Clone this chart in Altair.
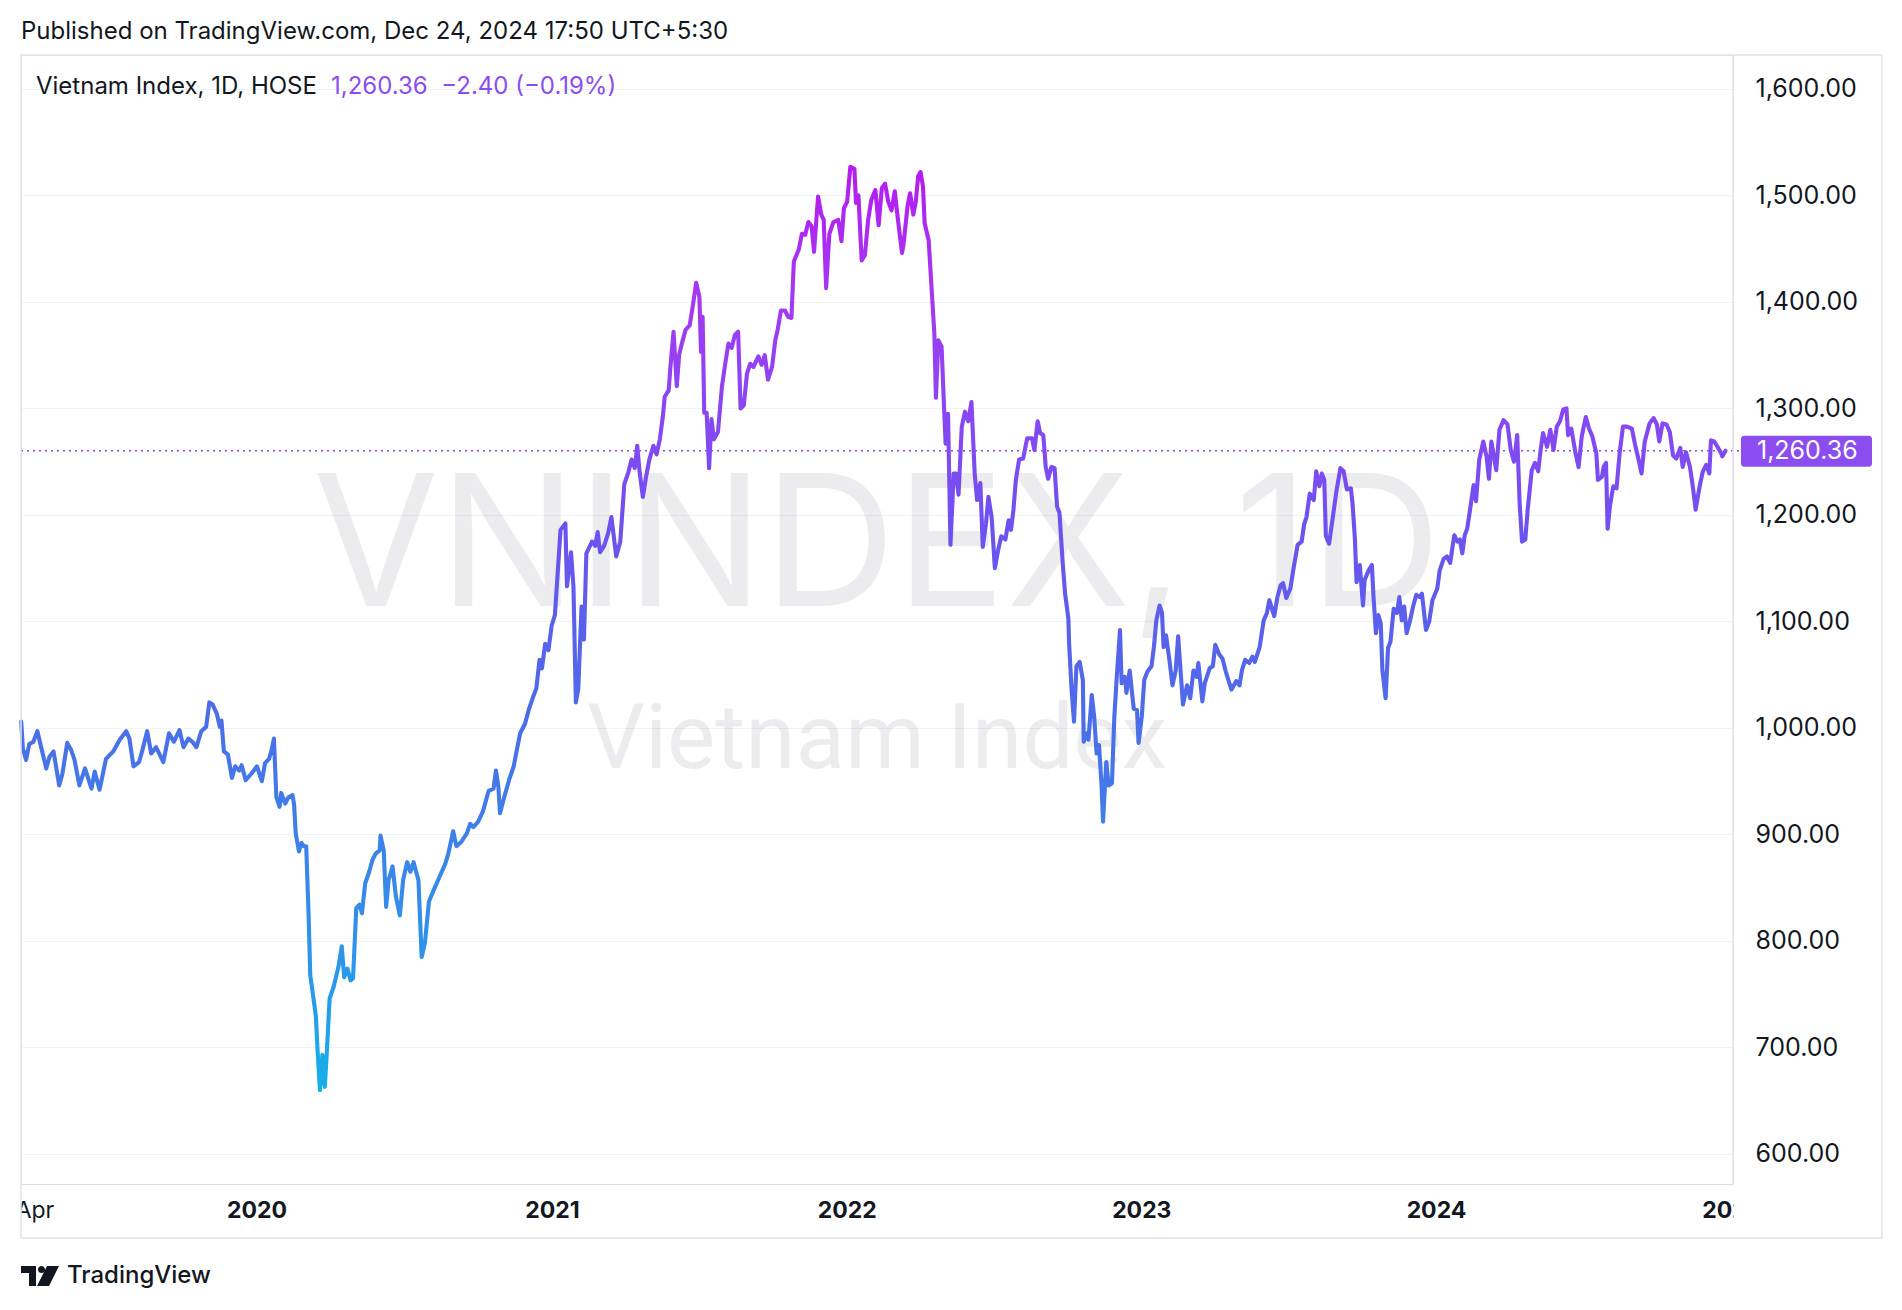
import altair as alt
import pandas as pd

# ---------------- data (days since START, index value) ----------------
START = "2020-01-01"

DAYS_A = [-292, -290, -286, -282, -277, -272, -268, -261, -257, -252, -245, -241, -235, -230, -226, -220, -213, -205, -201, -195,
          -187, -178, -170, -162, -158, -153, -146, -142, -136, -131, -125, -116, -109, -103, -96, -91, -85, -80, -75, -69,
          -63, -59, -55, -50, -46, -44, -41, -36, -31, -27, -22, -19, -14, -7, 0, 6, 10, 15, 18, 21,
          24, 28, 30, 35, 39, 44, 46, 48, 52, 55, 58, 61, 64, 66, 70, 73, 75, 78, 81, 84,
          86, 90, 95, 101, 105, 108, 112, 116, 119, 123, 127, 130, 134, 139, 143, 147, 152, 153, 157, 160,
          163, 168, 172, 177, 181, 186, 190, 194, 200, 204, 208, 213, 219]
VALS_A = [1006, 981, 970, 985, 987, 997, 984, 962, 973, 978, 946, 957, 986, 979, 970, 946, 962, 943, 959, 942,
          971, 978, 989, 997, 990, 964, 968, 979, 997, 976, 982, 968, 995, 987, 998, 982, 990, 987, 982, 997,
          1001, 1024, 1022, 1014, 1001, 1007, 978, 975, 953, 964, 960, 965, 951, 957, 964, 950, 967, 971, 979, 990,
          935, 926, 939, 929, 935, 937, 928, 901, 884, 892, 889, 889, 823, 768, 746, 729, 698, 660, 693, 663,
          688, 746, 757, 776, 795, 766, 774, 763, 765, 831, 834, 826, 854, 865, 876, 882, 885, 899, 885, 832,
          857, 870, 842, 824, 857, 874, 865, 874, 857, 785, 798, 837, 848]

DAYS_B = [233, 237, 243, 247, 253, 260, 264, 268, 274, 280, 287, 293, 296, 299, 301, 307, 313, 318, 322, 326,
          332, 337, 342, 346, 350, 353, 357, 361, 365, 369, 372, 376, 382, 384, 389, 392, 395, 398, 402, 405,
          408, 415, 419, 422, 425, 430, 435, 439, 445, 450, 455, 460, 464, 468, 471, 474, 478, 482, 486, 491,
          495, 499, 503, 505, 510, 512, 516, 520, 523, 527, 531, 536, 540, 544, 548, 550, 552, 554, 557, 560,
          563, 566, 571, 576, 580, 584, 588, 592, 596, 599, 603]
VALS_B = [872, 882, 903, 889, 893, 901, 910, 907, 912, 922, 941, 943, 960, 945, 920, 937, 953, 964, 980, 995,
          1004, 1018, 1029, 1037, 1064, 1056, 1079, 1073, 1096, 1106, 1140, 1186, 1192, 1133, 1165, 1133, 1024, 1037, 1114, 1083,
          1164, 1175, 1171, 1184, 1165, 1171, 1183, 1198, 1161, 1175, 1229, 1240, 1252, 1244, 1265, 1240, 1217, 1236, 1252, 1265,
          1257, 1271, 1294, 1311, 1317, 1338, 1372, 1321, 1351, 1363, 1374, 1378, 1397, 1418, 1405, 1353, 1386, 1296, 1296, 1244,
          1290, 1271, 1278, 1321, 1342, 1361, 1357, 1369, 1372, 1300, 1303]

DAYS_C = [607, 611, 615, 621, 625, 629, 633, 638, 642, 645, 649, 654, 658, 662, 665, 671, 675, 679, 683, 687,
          690, 695, 699, 702, 705, 709, 714, 720, 724, 727, 731, 735, 740, 742, 745, 749, 753, 757, 761, 766,
          770, 774, 778, 782, 786, 790, 794, 799, 801, 806, 809, 813, 816, 819, 822, 825, 827, 832, 836, 839,
          841, 844, 848, 851, 853, 856, 859, 863, 866, 869, 873, 877, 881, 885, 889, 892, 896, 899, 903, 906, 910]
VALS_C = [1333, 1342, 1339, 1349, 1341, 1350, 1327, 1339, 1364, 1374, 1392, 1392, 1386, 1385, 1438, 1449, 1464, 1463, 1475, 1471,
          1447, 1499, 1482, 1477, 1413, 1464, 1475, 1477, 1457, 1488, 1494, 1527, 1525, 1493, 1500, 1439, 1444, 1477, 1496, 1505,
          1472, 1507, 1511, 1494, 1486, 1504, 1477, 1446, 1455, 1491, 1502, 1482, 1494, 1518, 1522, 1508, 1474, 1458, 1408, 1371,
          1310, 1364, 1358, 1302, 1267, 1295, 1172, 1239, 1239, 1219, 1283, 1297, 1288, 1306, 1239, 1214, 1230, 1170, 1192, 1217, 1198]

DAYS_D = [914, 918, 922, 927, 931, 934, 937, 940, 944, 949, 954, 960, 963, 967, 970, 974, 977, 980, 984, 988,
          991, 994, 998, 1001, 1005, 1006, 1009, 1012, 1015, 1019, 1023, 1024, 1028, 1030, 1034, 1037, 1040, 1043, 1046, 1048,
          1052, 1055, 1059, 1062, 1065, 1069, 1071, 1075, 1077, 1081, 1086, 1090, 1092, 1096, 1099, 1103, 1108, 1111, 1114, 1118,
          1121, 1123, 1126, 1130, 1134, 1138, 1141, 1144, 1147, 1152, 1156, 1160, 1164, 1166]
VALS_D = [1150, 1167, 1180, 1177, 1195, 1186, 1205, 1233, 1252, 1253, 1272, 1272, 1261, 1288, 1277, 1275, 1245, 1234, 1245, 1244,
          1208, 1202, 1155, 1126, 1103, 1079, 1036, 1006, 1058, 1062, 1045, 987, 995, 989, 1031, 1011, 976, 984, 948, 912,
          968, 946, 948, 1011, 1048, 1092, 1042, 1048, 1033, 1054, 1018, 1017, 986, 1011, 1045, 1053, 1058, 1076, 1101, 1115,
          1108, 1076, 1087, 1065, 1040, 1054, 1086, 1054, 1022, 1040, 1028, 1054, 1048, 1061]

DAYS_E = [1171, 1174, 1180, 1184, 1187, 1192, 1196, 1200, 1207, 1213, 1217, 1220, 1224, 1229, 1233, 1236, 1242, 1247, 1251, 1254,
          1260, 1264, 1268, 1271, 1275, 1280, 1284, 1289, 1294, 1297, 1300, 1304, 1309, 1312, 1316, 1319, 1322, 1324, 1328, 1333,
          1337, 1342, 1346, 1350, 1355, 1357, 1360, 1362, 1366, 1370, 1372, 1377, 1381, 1383, 1386, 1389, 1392, 1394, 1398, 1401,
          1404, 1408, 1412, 1415, 1418, 1421, 1424, 1428, 1432, 1436, 1440, 1443, 1448, 1452, 1456, 1462, 1465, 1470, 1474, 1478,
          1483, 1487, 1490, 1493, 1496, 1499]
VALS_E = [1025, 1042, 1056, 1058, 1078, 1069, 1065, 1053, 1036, 1044, 1040, 1054, 1064, 1061, 1067, 1062, 1076, 1101, 1108, 1120,
          1105, 1123, 1134, 1136, 1122, 1131, 1150, 1172, 1175, 1191, 1198, 1220, 1214, 1241, 1227, 1239, 1233, 1180, 1173, 1200,
          1222, 1244, 1241, 1224, 1225, 1211, 1177, 1137, 1153, 1115, 1139, 1148, 1153, 1123, 1089, 1106, 1098, 1054, 1028, 1075,
          1081, 1112, 1108, 1123, 1101, 1114, 1089, 1100, 1114, 1125, 1123, 1126, 1092, 1100, 1120, 1131, 1148, 1159, 1161, 1155,
          1181, 1175, 1177, 1164, 1181, 1187]

DAYS_F = [1502, 1507, 1510, 1514, 1519, 1523, 1526, 1529, 1535, 1539, 1544, 1549, 1553, 1557, 1561, 1564, 1567, 1571, 1574, 1579,
          1583, 1587, 1590, 1593, 1598, 1602, 1606, 1610, 1614, 1618, 1622, 1624, 1628, 1633, 1637, 1641, 1646, 1650, 1654, 1659,
          1661, 1666, 1668, 1671, 1673, 1676, 1680, 1684, 1688, 1692, 1697, 1703, 1707, 1711, 1715, 1719, 1725, 1730, 1734, 1737,
          1741, 1746, 1750, 1754, 1758, 1763, 1766, 1770, 1775, 1779, 1782, 1787, 1791, 1795, 1799, 1801, 1805, 1809, 1813, 1815, 1819]
VALS_F = [1202, 1228, 1213, 1252, 1269, 1255, 1234, 1269, 1242, 1280, 1289, 1285, 1261, 1250, 1275, 1211, 1175, 1177, 1205, 1242,
          1249, 1241, 1261, 1277, 1264, 1280, 1261, 1283, 1288, 1299, 1300, 1275, 1281, 1259, 1245, 1274, 1292, 1281, 1274, 1258,
          1233, 1236, 1245, 1249, 1187, 1209, 1227, 1225, 1259, 1283, 1283, 1281, 1266, 1253, 1239, 1269, 1286, 1291, 1285, 1269,
          1286, 1285, 1278, 1256, 1253, 1263, 1245, 1259, 1245, 1224, 1205, 1227, 1241, 1247, 1239, 1270, 1269, 1264, 1259, 1255, 1260.36]

LAST_VALUE = 1260.36
TICK_DATES = ["2019-04-01", "2020-01-01", "2021-01-01", "2022-01-01", "2023-01-01", "2024-01-01", "2025-01-01"]
TICK_LABELS = ["Apr", "2020", "2021", "2022", "2023", "2024", "2025"]
Y_TICKS = [600, 700, 800, 900, 1000, 1100, 1200, 1300, 1400, 1500, 1600]

HEADER = "Published on TradingView.com, Dec 24, 2024 17:50 UTC+5:30"
LEGEND_NAME = "Vietnam Index, 1D, HOSE"
LEGEND_VALUES = "1,260.36\u00a0\u00a0\u22122.40 (\u22120.19%)"
WATERMARK_1 = "VNINDEX, 1D"
WATERMARK_2 = "Vietnam Index"
FOOTER = "TradingView"

# ---------------- build frames ----------------
days = DAYS_A + DAYS_B + DAYS_C + DAYS_D + DAYS_E + DAYS_F
vals = VALS_A + VALS_B + VALS_C + VALS_D + VALS_E + VALS_F
df = pd.DataFrame({"date": pd.Timestamp(START) + pd.to_timedelta(days, unit="D"), "value": vals})
ticks_df = pd.DataFrame({"date": pd.to_datetime(TICK_DATES), "label": TICK_LABELS})
one = pd.DataFrame({"k": [0]})

W, H = 1712, 1129
FONT = "Inter"
TXT = "#131722"
GRID = "#f0f3fa"
BORDER = "#e0e3eb"
PURPLE = "#8b4df0"

X_SCALE = alt.Scale(domain=[alt.DateTime(year=2019, month=3, date=14, hours=17),
                            alt.DateTime(year=2025, month=1, date=2, hours=7)])
Y_SCALE = alt.Scale(domain=[571.8, 1631.9], nice=False, zero=False)

x_main = alt.X("date:T", scale=X_SCALE, axis=alt.Axis(values=[alt.DateTime(year=int(d[:4]), month=int(d[5:7]), date=int(d[8:])) for d in TICK_DATES],
                                                       labels=False, ticks=False, domain=False, grid=True,
                                                       gridColor=GRID, gridWidth=1.2, title=None))
y_main = alt.Y("value:Q", scale=Y_SCALE, axis=alt.Axis(values=Y_TICKS, format=",.2f", orient="right", ticks=False,
                                                      domain=False, grid=True, gridColor=GRID, gridWidth=1.2,
                                                      labelFont=FONT, labelFontSize=25, labelColor=TXT,
                                                      labelPadding=22, labelAlign="left", title=None))

gradient = alt.Gradient(gradient="linear", x1=0, x2=0, y1=1, y2=0, stops=[
    alt.GradientStop(offset=0.00, color="#15b0e8"),
    alt.GradientStop(offset=0.12, color="#2a98ea"),
    alt.GradientStop(offset=0.28, color="#3f80e8"),
    alt.GradientStop(offset=0.39, color="#4a6fe8"),
    alt.GradientStop(offset=0.51, color="#5b5fec"),
    alt.GradientStop(offset=0.62, color="#7050f0"),
    alt.GradientStop(offset=0.74, color="#8a46f2"),
    alt.GradientStop(offset=0.85, color="#a23af2"),
    alt.GradientStop(offset=1.00, color="#b51cf0"),
])

watermark1 = alt.Chart(one).mark_text(text=WATERMARK_1, font=FONT, fontSize=183, color="#1c2030", opacity=0.08,
                                      align="center", baseline="alphabetic").encode(
    x=alt.value(856), y=alt.value(551))
watermark2 = alt.Chart(one).mark_text(text=WATERMARK_2, font="Roboto", fontSize=91, color="#1c2030", opacity=0.08,
                                      align="center", baseline="alphabetic").encode(
    x=alt.value(856), y=alt.value(713))

line = alt.Chart(df).mark_line(color=gradient, strokeWidth=4.1, strokeJoin="round", strokeCap="round").encode(
    x=x_main, y=y_main)

dotted = alt.Chart(one).mark_rule(color=PURPLE, strokeDash=[2, 4], strokeWidth=1.5).encode(
    y=alt.datum(LAST_VALUE, scale=Y_SCALE), x=alt.value(0), x2=alt.value(W + 8))

price_box = alt.Chart(one).mark_rect(color=PURPLE, cornerRadius=3, yOffset=-15, y2Offset=16).encode(
    x=alt.value(1720), x2=alt.value(1851),
    y=alt.datum(LAST_VALUE, scale=Y_SCALE), y2=alt.datum(LAST_VALUE))
price_text = alt.Chart(one).mark_text(text="1,260.36", font=FONT, fontSize=25, color="white", align="left",
                                      baseline="middle").encode(
    x=alt.value(1736), y=alt.datum(LAST_VALUE, scale=Y_SCALE))

xlab_apr = alt.Chart(ticks_df[ticks_df["label"] == "Apr"]).mark_text(
    font=FONT, fontSize=23, color=TXT, baseline="middle", align="center", y=1156).encode(
    x=alt.X("date:T", scale=X_SCALE, axis=None), text="label:N")
xlab_years = alt.Chart(ticks_df[ticks_df["label"] != "Apr"]).mark_text(
    font=FONT, fontSize=23, fontWeight="bold", color=TXT, baseline="middle", align="center", y=1156).encode(
    x=alt.X("date:T", scale=X_SCALE, axis=None), text="label:N")

cover_left = alt.Chart(one).mark_rect(color="white").encode(
    x=alt.value(-13), x2=alt.value(0), y=alt.value(H + 1), y2=alt.value(H + 54))
cover_right = alt.Chart(one).mark_rect(color="white").encode(
    x=alt.value(W + 1), x2=alt.value(1860), y=alt.value(H + 1), y2=alt.value(H + 54))

frame = alt.Chart(one).mark_rect(fillOpacity=0, stroke=BORDER, strokeWidth=1.5).encode(
    x=alt.value(0), x2=alt.value(1861), y=alt.value(0), y2=alt.value(1183))
separator = alt.Chart(one).mark_rule(color=BORDER, strokeWidth=1.5).encode(
    x=alt.value(W), y=alt.value(0), y2=alt.value(H))

header = alt.Chart(one).mark_text(text=HEADER, font=FONT, fontSize=24, color=TXT, align="left",
                                  baseline="middle").encode(x=alt.value(0), y=alt.value(-23))
legend_name = alt.Chart(one).mark_text(text=LEGEND_NAME, font=FONT, fontSize=24, color=TXT, align="left",
                                       baseline="middle").encode(x=alt.value(15), y=alt.value(32))
legend_vals = alt.Chart(one).mark_text(text=LEGEND_VALUES, font=FONT, fontSize=24, color=PURPLE, align="left",
                                       baseline="middle").encode(x=alt.value(310), y=alt.value(32))


def P(px, py):
    return f"{(px - 19) / 19:.4f},{(py - 10) / 19:.4f}"


r = 3.5 / 19
LOGO = ("M" + P(0, 0) + "L" + P(15, 0) + "L" + P(15, 20) + "L" + P(8, 20) + "L" + P(8, 7) + "L" + P(0, 7) + "Z"
        + "M" + P(17, 3.5) + f"A{r:.4f},{r:.4f} 0 1,0 " + P(24, 3.5) + f"A{r:.4f},{r:.4f} 0 1,0 " + P(17, 3.5) + "Z"
        + "M" + P(26, 0) + "L" + P(38, 0) + "L" + P(28, 20) + "L" + P(16, 20) + "Z")
logo = alt.Chart(one).mark_point(shape=LOGO, size=1444, filled=True, color=TXT, opacity=1, strokeWidth=0).encode(
    x=alt.value(19), y=alt.value(1221))
footer = alt.Chart(one).mark_text(text=FOOTER, font=FONT, fontSize=24, fontWeight=500, color=TXT, align="left",
                                  baseline="middle").encode(x=alt.value(46), y=alt.value(1221))

chart = alt.layer(
    watermark1, watermark2, line, dotted, price_box, price_text,
    xlab_apr, xlab_years, cover_left, cover_right, frame, separator,
    header, legend_name, legend_vals, logo, footer,
).properties(
    width=W, height=H,
    padding={"left": 13, "top": 47, "right": 160, "bottom": 110},
    autosize=alt.AutoSizeParams(type="none"),
).configure_view(stroke=None).configure(background="white")

chart.save("out.html", embed_options={"renderer": "svg", "actions": False})
